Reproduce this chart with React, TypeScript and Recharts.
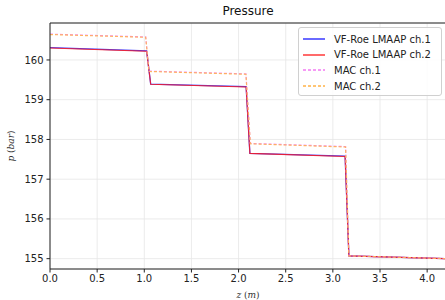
import { LineChart, Line, XAxis, YAxis, CartesianGrid, ReferenceLine, Legend } from "recharts";

// VF-Roe LMAAP results (z in m, p in bar)
const roeZ = [0, 1.025, 1.068, 2.08, 2.12, 3.13, 3.17, 4.2];
const roeCh1 = [160.31, 160.23, 159.39, 159.33, 157.65, 157.58, 155.07, 155.0];
const roeCh2 = [160.3, 160.22, 159.39, 159.32, 157.65, 157.57, 155.07, 155.0];

// MAC results
const macZ = [0, 1.015, 1.05, 2.078, 2.125, 3.135, 3.17, 4.2];
const macCh1 = [160.65, 160.58, 159.72, 159.65, 157.9, 157.82, 155.07, 155.0];
const macCh2 = [160.64, 160.57, 159.71, 159.64, 157.89, 157.81, 155.07, 155.0];

const xTicks = [0, 0.5, 1, 1.5, 2, 2.5, 3, 3.5, 4];
const yTicks = [155, 156, 157, 158, 159, 160];

const series = [
  { name: "VF-Roe LMAAP ch.1", z: roeZ, p: roeCh1, color: "#1a1aff", dash: undefined, width: 1.3 },
  { name: "VF-Roe LMAAP ch.2", z: roeZ, p: roeCh2, color: "#ff1a1a", dash: undefined, width: 1.1 },
  { name: "MAC ch.1", z: macZ, p: macCh1, color: "#f47af4", dash: "3 2", width: 1.2 },
  { name: "MAC ch.2", z: macZ, p: macCh2, color: "#ffb347", dash: "3 2", width: 1.2 },
];

const font = "DejaVu Sans, sans-serif";
const tick = { fontSize: 10, fill: "#222", fontFamily: font };

function LegendBox() {
  return (
    <div
      style={{
        position: "absolute",
        left: 298,
        top: 27,
        width: 144,
        height: 69,
        border: "1px solid #d0d0d0",
        borderRadius: 3,
        background: "rgba(255,255,255,0.85)",
        fontFamily: font,
        fontSize: 10,
        color: "#222",
        boxSizing: "border-box",
      }}
    >
      {series.map((s, i) => (
        <div key={s.name} style={{ position: "absolute", left: 4, top: 4 + i * 15.7, height: 14, display: "flex", alignItems: "center" }}>
          <svg width={22} height={14}>
            <line x1={0} x2={22} y1={7} y2={7} stroke={s.color} strokeWidth={1.3} strokeDasharray={s.dash} />
          </svg>
          <span style={{ marginLeft: 9, whiteSpace: "nowrap" }}>{s.name}</span>
        </div>
      ))}
    </div>
  );
}

export default function App() {
  return (
    <div style={{ position: "fixed", left: 0, top: 0, width: 445, height: 300, overflow: "hidden", background: "#fff" }}>
      <div
        style={{
          position: "absolute",
          left: 50,
          width: 396,
          top: 4,
          textAlign: "center",
          fontFamily: font,
          fontSize: 12,
          color: "#111",
        }}
      >
        Pressure
      </div>
      <LineChart width={450} height={300} margin={{ top: 23, right: 4, bottom: 0, left: 0 }}>
        <CartesianGrid stroke="#e6e6e6" strokeWidth={0.8} />
        <XAxis
          dataKey="z"
          type="number"
          domain={[0, 4.2]}
          ticks={xTicks}
          tickFormatter={(v: number) => v.toFixed(1)}
          allowDataOverflow
          height={31}
          tick={tick}
          tickSize={3.5}
          tickMargin={2}
          stroke="#222"
          label={{
            content: () => (
              <text x={248} y={298} textAnchor="middle" fontFamily="DejaVu Serif, serif" fontSize={9} fill="#333">
                <tspan fontStyle="italic">z</tspan> (<tspan fontStyle="italic">m</tspan>)
              </text>
            ),
          }}
        />
        <YAxis
          type="number"
          domain={[154.74, 160.93]}
          ticks={yTicks}
          allowDataOverflow
          width={50}
          tick={tick}
          tickSize={3.5}
          tickMargin={3}
          stroke="#222"
          label={{
            content: () => (
              <text
                x={14}
                y={146}
                transform="rotate(-90 14 146)"
                textAnchor="middle"
                fontFamily="DejaVu Serif, serif"
                fontSize={9}
                fill="#333"
              >
                <tspan fontStyle="italic">p</tspan> (<tspan fontStyle="italic">bar</tspan>)
              </text>
            ),
          }}
        />
        <ReferenceLine y={160.93} stroke="#222" strokeWidth={1} />
        {series.map((s) => (
          <Line
            key={s.name}
            name={s.name}
            data={s.z.map((z, i) => ({ z, p: s.p[i] }))}
            dataKey="p"
            type="linear"
            stroke={s.color}
            strokeWidth={s.width}
            strokeOpacity={0.85}
            strokeDasharray={s.dash}
            dot={false}
            isAnimationActive={false}
          />
        ))}
        <Legend content={() => null} />
      </LineChart>
      <LegendBox />
    </div>
  );
}
